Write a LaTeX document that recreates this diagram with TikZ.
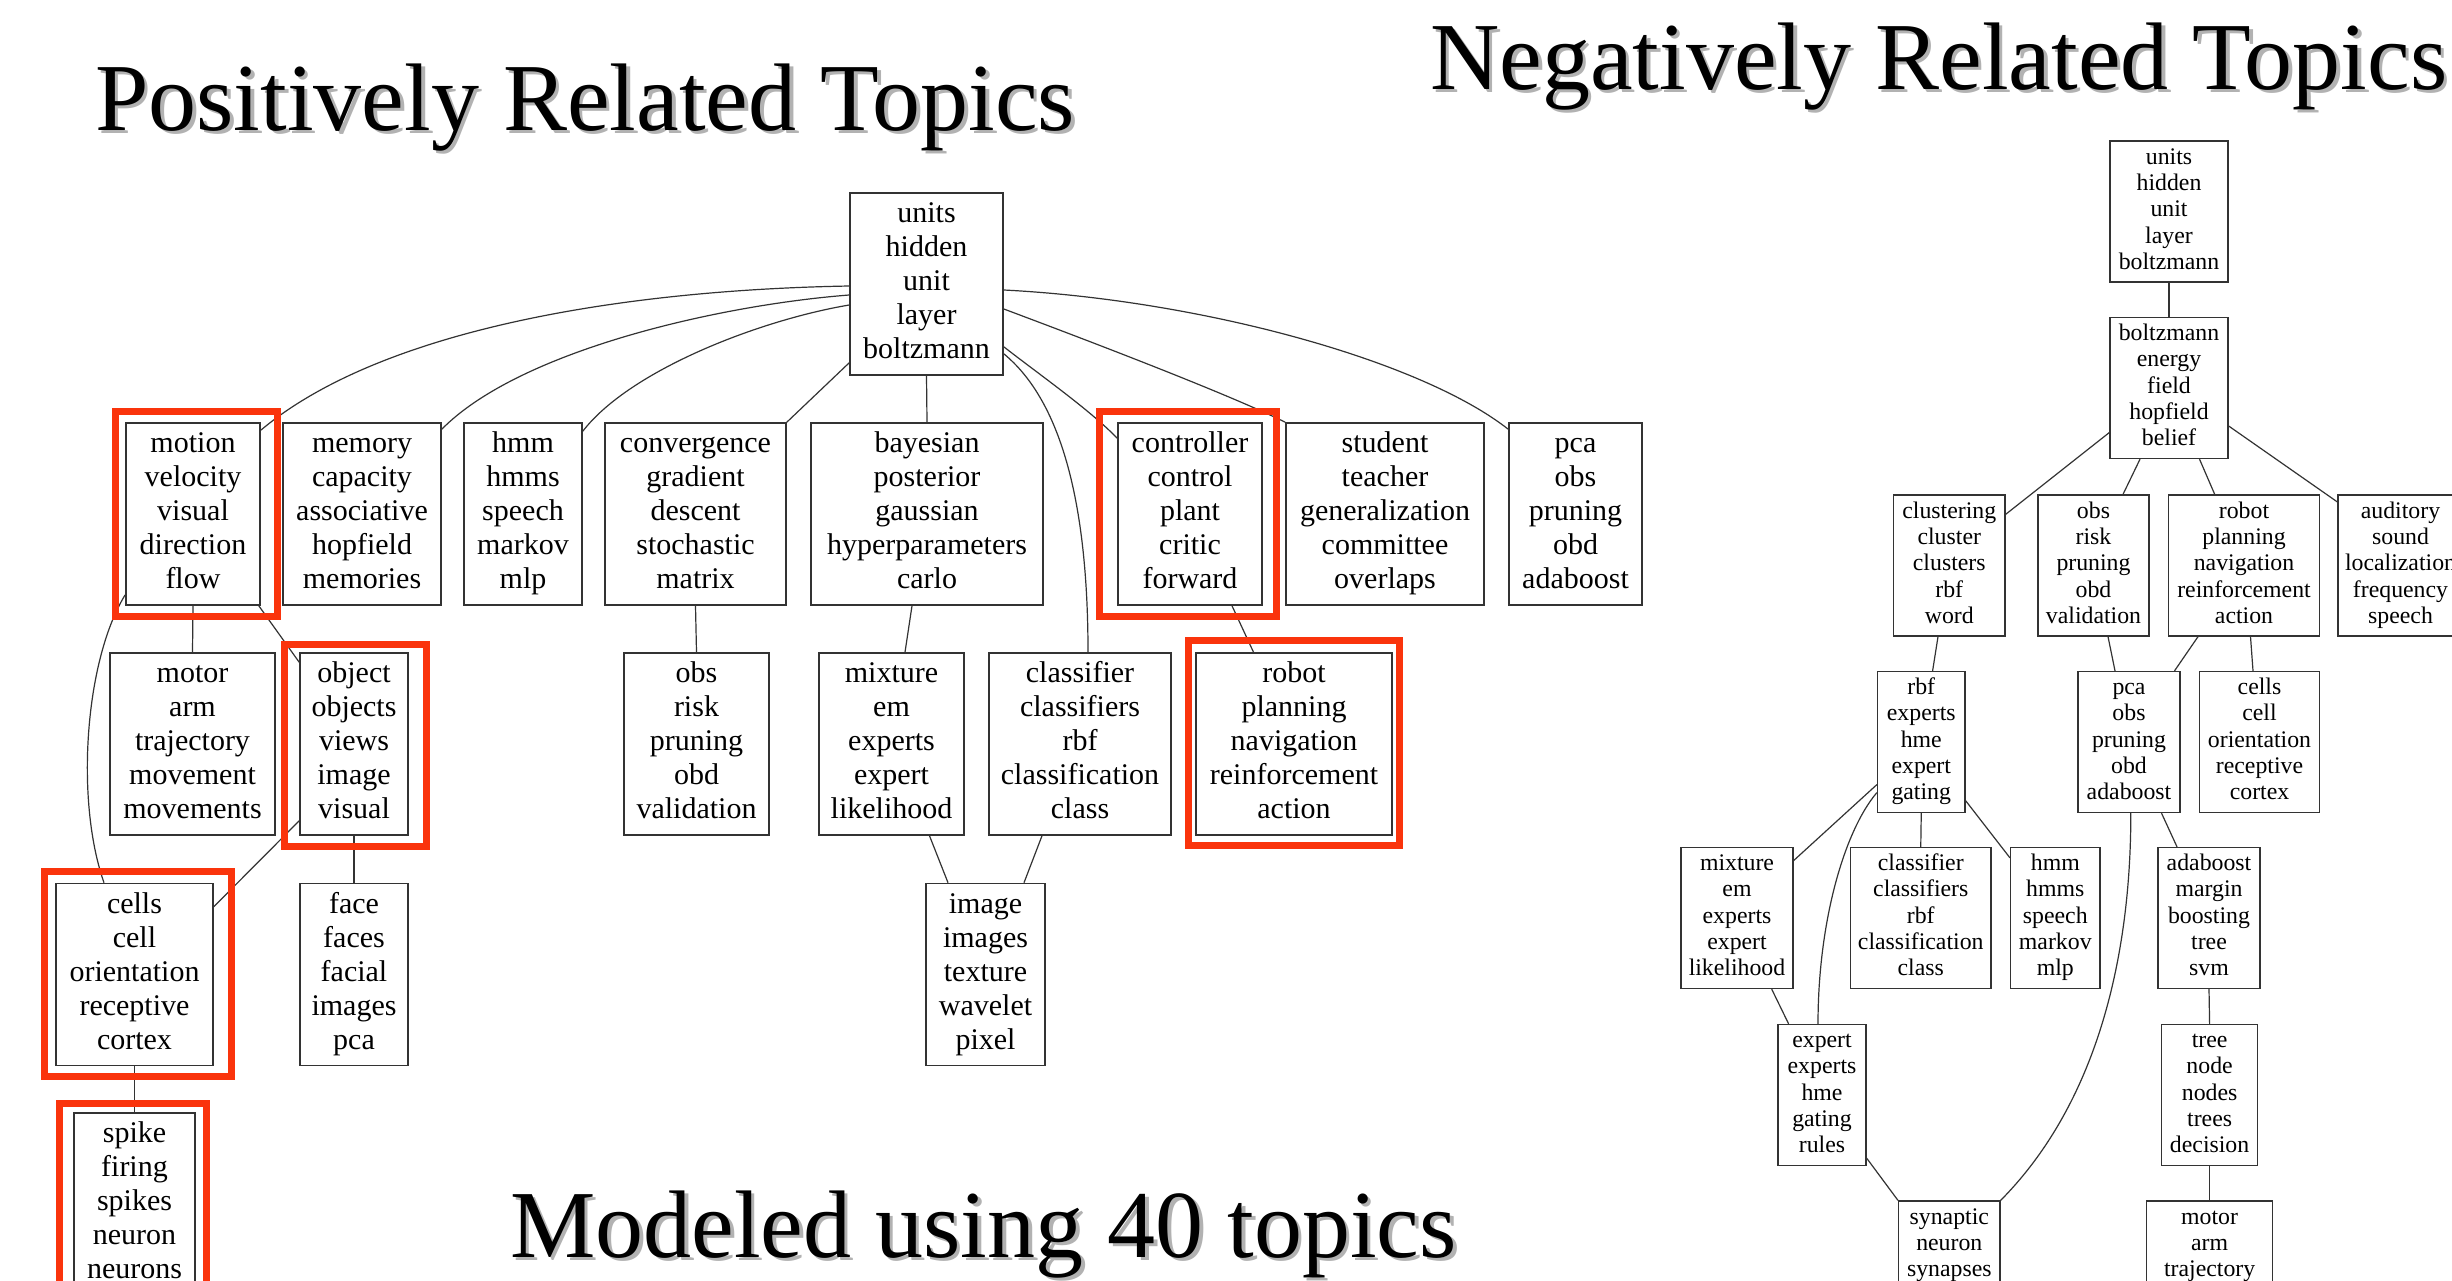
\documentclass[tikz,border=0pt]{standalone}
\usepackage{fontspec}
\setmainfont{Liberation Serif}
\definecolor{hl}{RGB}{250,52,12}
\begin{document}
\begin{tikzpicture}[x=1pt,y=-1pt,
  pb/.style={draw=black!80, line width=1.6pt, inner sep=0pt, align=center, minimum height=182pt, font=\fontsize{30}{34}\selectfont},
  nb/.style={draw=black!80, line width=1.3pt, inner sep=0pt, align=center, minimum height=141pt, font=\fontsize{23.8}{26.3}\selectfont},
  edge/.style={draw=black!80, line width=1.2pt},
  hlbox/.style={draw=hl, line width=6.5pt},
  ttl/.style={inner sep=0pt, anchor=base west, font=\fontsize{96}{100}\selectfont},
  shd/.style={ttl, text=black!30},
]
\useasboundingbox (0,0) rectangle (2452,1280);
\clip (0,0) rectangle (2452,1280);
\fill[white] (0,0) rectangle (2452,1280);

% ---------- titles (with soft drop shadow) ----------
\node[shd] (tposs) at (98.5,133.5) {Positively Related Topics};
\node[ttl] (tpos) at (95,130) {Positively Related Topics};
\node[shd] (tnegs) at (1433.5,92.5) {Negatively Related Topics};
\node[ttl] (tneg) at (1430,89) {Negatively Related Topics};
\node[shd] (tmods) at (513.5,1260.5) {Modeled using 40 topics};
\node[ttl] (tmod) at (510,1257) {Modeled using 40 topics};

% ---------- positive tree ----------
\node[pb, minimum width=153pt] (proot) at (926.5,284) {\strut units\\hidden\\unit\\layer\\boltzmann\strut};
\node[pb, minimum width=134pt] (pmotion) at (193,514) {\strut motion\\velocity\\visual\\direction\\flow\strut};
\node[pb, minimum width=158pt] (pmemory) at (362,514) {\strut memory\\capacity\\associative\\hopfield\\memories\strut};
\node[pb, minimum width=118pt] (phmm) at (523,514) {\strut hmm\\hmms\\speech\\markov\\mlp\strut};
\node[pb, minimum width=181pt] (pconv) at (695.5,514) {\strut convergence\\gradient\\descent\\stochastic\\matrix\strut};
\node[pb, minimum width=232pt] (pbayes) at (927,514) {\strut bayesian\\posterior\\gaussian\\hyperparameters\\carlo\strut};
\node[pb, minimum width=144pt] (pcontrol) at (1190,514) {\strut controller\\control\\plant\\critic\\forward\strut};
\node[pb, minimum width=198pt] (pstudent) at (1385,514) {\strut student\\teacher\\generalization\\committee\\overlaps\strut};
\node[pb, minimum width=133pt] (ppca) at (1575.5,514) {\strut pca\\obs\\pruning\\obd\\adaboost\strut};
\node[pb, minimum width=165pt] (pmotor) at (192.5,744) {\strut motor\\arm\\trajectory\\movement\\movements\strut};
\node[pb, minimum width=108pt] (pobject) at (354,744) {\strut object\\objects\\views\\image\\visual\strut};
\node[pb, minimum width=145pt] (pobs) at (696.5,744) {\strut obs\\risk\\pruning\\obd\\validation\strut};
\node[pb, minimum width=145pt] (pmixture) at (891.5,744) {\strut mixture\\em\\experts\\expert\\likelihood\strut};
\node[pb, minimum width=182pt] (pclass) at (1080,744) {\strut classifier\\classifiers\\rbf\\classification\\class\strut};
\node[pb, minimum width=196pt] (probot) at (1294,744) {\strut robot\\planning\\navigation\\reinforcement\\action\strut};
\node[pb, minimum width=157pt] (pcells) at (134.5,974.5) {\strut cells\\cell\\orientation\\receptive\\cortex\strut};
\node[pb, minimum width=108pt] (pface) at (354,974.5) {\strut face\\faces\\facial\\images\\pca\strut};
\node[pb, minimum width=119pt] (pimage) at (985.5,974.5) {\strut image\\images\\texture\\wavelet\\pixel\strut};
\node[pb, minimum width=121pt] (pspike) at (134.5,1204) {\strut spike\\firing\\spikes\\neuron\\neurons\strut};

\draw[edge] ([yshift=-2pt]proot.west) .. controls (620,290) and (380,330) .. ([yshift=-8pt]pmotion.north east);
\draw[edge] ([yshift=-11pt]proot.west) .. controls (720,305) and (520,350) .. ([yshift=-7pt]pmemory.north east);
\draw[edge] ([yshift=-21pt]proot.west) .. controls (760,320) and (630,370) .. ([yshift=-9pt]phmm.north east);
\draw[edge] ([yshift=13pt]proot.south west) -- (pconv.north east);
\draw[edge] (proot.south) -- (pbayes.north);
\draw[edge] ([yshift=22pt]proot.south east) .. controls (1060,400) and (1088,500) .. ([xshift=8pt]pclass.north);
\draw[edge] ([yshift=29pt]proot.south east) .. controls (1040,375) and (1090,410) .. ([yshift=-16pt]pcontrol.north west);
\draw[edge] ([yshift=-25pt]proot.east) .. controls (1100,345) and (1230,395) .. (pstudent.north west);
\draw[edge] ([yshift=-6pt]proot.east) .. controls (1200,300) and (1420,360) .. ([yshift=-7pt]ppca.north west);
\draw[edge] (pmotion.south) -- (pmotor.north);
\draw[edge] ([xshift=-2pt]pmotion.south east) -- ([yshift=-10pt]pobject.north west);
\draw[edge] ([yshift=11pt]pmotion.south west) .. controls (85,660) and (75,800) .. ([xshift=-30.5pt]pcells.north);
\draw[edge] ([yshift=15pt]pobject.south west) -- ([yshift=-24pt]pcells.north east);
\draw[edge] (pobject.south) -- (pface.north);
\draw[edge] (pcells.south) -- (pspike.north);
\draw[edge] (pconv.south) -- (pobs.north);
\draw[edge] ([xshift=-15pt]pbayes.south) -- ([xshift=13.5pt]pmixture.north);
\draw[edge] ([xshift=38pt]pmixture.south) -- ([xshift=-37.5pt]pimage.north);
\draw[edge] ([xshift=-38pt]pclass.south) -- ([xshift=38.5pt]pimage.north);
\draw[edge] ([xshift=42pt]pcontrol.south) -- ([xshift=-40.5pt]probot.north);

% ---------- negative tree ----------
\node[nb, minimum width=118pt] (nroot) at (2169,211.5) {\strut units\\hidden\\unit\\layer\\boltzmann\strut};
\node[nb, minimum width=118pt] (nboltz) at (2169,388) {\strut boltzmann\\energy\\field\\hopfield\\belief\strut};
\node[nb, minimum width=111.5pt] (nclust) at (1949.25,565.5) {\strut clustering\\cluster\\clusters\\rbf\\word\strut};
\node[nb, minimum width=111pt] (nobs) at (2093.5,565.5) {\strut obs\\risk\\pruning\\obd\\validation\strut};
\node[nb, minimum width=151pt] (nrobot) at (2244,565.5) {\strut robot\\planning\\navigation\\reinforcement\\action\strut};
\node[nb, minimum width=125pt] (naud) at (2400.5,565.5) {\strut auditory\\sound\\localization\\frequency\\speech\strut};
\node[nb, minimum width=87.5pt] (nrbf) at (1921.25,742) {\strut rbf\\experts\\hme\\expert\\gating\strut};
\node[nb, minimum width=102pt] (npca) at (2129,742) {\strut pca\\obs\\pruning\\obd\\adaboost\strut};
\node[nb, minimum width=120pt] (ncells) at (2259.5,742) {\strut cells\\cell\\orientation\\receptive\\cortex\strut};
\node[nb, minimum width=112pt] (nmix) at (1737,918) {\strut mixture\\em\\experts\\expert\\likelihood\strut};
\node[nb, minimum width=140.5pt] (nclass) at (1920.75,918) {\strut classifier\\classifiers\\rbf\\classification\\class\strut};
\node[nb, minimum width=89.4pt] (nhmm) at (2055.3,918) {\strut hmm\\hmms\\speech\\markov\\mlp\strut};
\node[nb, minimum width=102pt] (nada) at (2209,918) {\strut adaboost\\margin\\boosting\\tree\\svm\strut};
\node[nb, minimum width=88pt] (nexpert) at (1822,1095) {\strut expert\\experts\\hme\\gating\\rules\strut};
\node[nb, minimum width=96pt] (ntree) at (2209.6,1095) {\strut tree\\node\\nodes\\trees\\decision\strut};
\node[nb, minimum width=101.4pt] (nsyn) at (1949.3,1271.5) {\strut synaptic\\neuron\\synapses\\\mbox{}\\\mbox{}\strut};
\node[nb, minimum width=126pt] (nmotor) at (2209.6,1271.5) {\strut motor\\arm\\trajectory\\\mbox{}\\\mbox{}\strut};

\draw[edge] (nroot.south) -- (nboltz.north);
\draw[edge] ([yshift=-44.5pt]nboltz.west) -- ([yshift=-20pt]nclust.north east);
\draw[edge] ([xshift=-29pt]nboltz.south) -- ([xshift=29.5pt]nobs.north);
\draw[edge] ([xshift=30.5pt]nboltz.south) -- ([xshift=-29.3pt]nrobot.north);
\draw[edge] ([yshift=-38pt]nboltz.east) -- ([yshift=-7.6pt]naud.north west);
\draw[edge] ([xshift=-11.25pt]nclust.south) -- ([xshift=11.35pt]nrbf.north);
\draw[edge] ([xshift=14.5pt]nobs.south) -- ([xshift=-14pt]npca.north);
\draw[edge] ([xshift=-46pt]nrobot.south) -- ([xshift=45.5pt]npca.north);
\draw[edge] ([xshift=6.5pt]nrobot.south) -- ([xshift=-6.5pt]ncells.north);
\draw[edge] ([yshift=-42.6pt]nrbf.west) -- ([yshift=-13.7pt]nmix.north east);
\draw[edge] ([yshift=-50.6pt]nrbf.west) .. controls (1845,830) and (1818,920) .. ([xshift=-4pt]nexpert.north);
\draw[edge] (nrbf.south) -- (nclass.north);
\draw[edge] ([yshift=-58.7pt]nrbf.east) -- ([yshift=-11pt]nhmm.north west);
\draw[edge] ([xshift=1.8pt]npca.south) .. controls (2131,950) and (2100,1100) .. (nsyn.north east);
\draw[edge] ([xshift=32.5pt]npca.south) -- ([xshift=-32pt]nada.north);
\draw[edge] ([xshift=34.7pt]nmix.south) -- ([xshift=-33.4pt]nexpert.north);
\draw[edge] ([yshift=8pt]nexpert.south east) -- (nsyn.north west);
\draw[edge] (nada.south) -- (ntree.north);
\draw[edge] (ntree.south) -- (nmotor.north);

% ---------- highlight frames ----------
\draw[hlbox] (115.5,411.5) rectangle (277.5,616.5);
\draw[hlbox] (284.5,644.5) rectangle (426.5,846.5);
\draw[hlbox] (44.5,871.5) rectangle (231.5,1076.5);
\draw[hlbox] (59.5,1103.5) rectangle (206.5,1320);
\draw[hlbox] (1099.5,411.5) rectangle (1276.5,616.5);
\draw[hlbox] (1188.5,640.5) rectangle (1399.5,845.5);
\end{tikzpicture}
\end{document}
